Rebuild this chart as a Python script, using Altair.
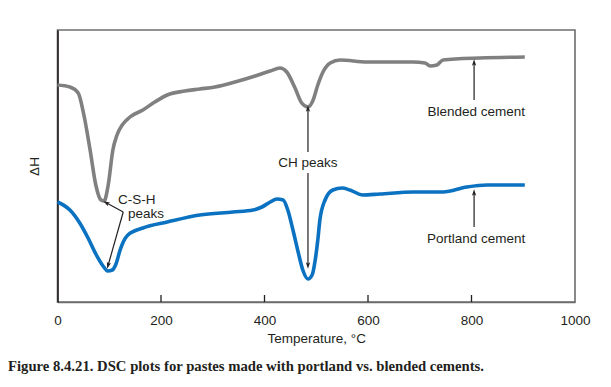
import altair as alt
import pandas as pd
import numpy as np

# Blended cement (gray) curve: temperature (°C), relative ΔH
blend_T = [0, 24, 40, 51, 63, 74, 84, 90, 98, 107, 115, 125, 140, 165, 188, 212, 246, 275, 304, 343,
           382, 411, 430, 443, 459, 472, 484, 494, 503, 513, 527, 546, 598, 687, 710, 720, 733, 745, 816, 903]
blend_H = [217, 215, 209, 187, 152, 117, 102, 101, 117, 152, 167, 177, 185, 192, 200, 207, 211, 213, 215, 220,
           226, 231, 234, 230, 214, 199, 195, 202, 217, 230, 239, 242, 240, 240, 239, 236, 237, 242, 244, 245]

# Portland cement (blue) curve
port_T = [0, 24, 43, 59, 74, 88, 97, 106, 113, 121, 127, 136, 165, 212, 275, 339, 378, 395, 411, 424,
          436, 445, 455, 465, 474, 484, 492, 498, 503, 507, 517, 532, 550, 565, 590, 623, 687, 745, 791, 830, 903]
port_H = [100, 92, 79, 64, 48, 36, 31, 32, 38, 52, 60, 67, 74, 80, 87, 90, 92, 95, 100, 103,
          102, 92, 72, 50, 32, 23, 27, 42, 62, 82, 102, 112, 114, 112, 107, 108, 110, 110, 115, 117, 117]

# annotation labels
label_text = ["Blended cement", "Portland cement", "CH peaks", "C-S-H", "peaks"]
label_T = [809, 809, 484, 153, 171]
label_H = [190, 63, 139, 102, 88]

# arrows: start -> tip
arrow_T1 = [805, 805, 484, 484, 127, 127]
arrow_H1 = [202, 75, 150, 129, 90, 90]
arrow_T2 = [805, 805, 484, 484, 95, 98]
arrow_H2 = [239, 109, 193, 37, 99, 37]

tick_values = [0, 200, 400, 600, 800, 1000]
inner_ticks = [200, 400, 600, 800]

W, H = 517.5, 272
XMAX, YMAX = 1000, 272
xs = W / XMAX
ys = H / YMAX

curves = pd.concat([
    pd.DataFrame({"T": blend_T, "H": blend_H, "s": "Blended"}),
    pd.DataFrame({"T": port_T, "H": port_H, "s": "Portland"}),
])

xsc = alt.Scale(domain=[0, XMAX], nice=False, zero=False)
ysc = alt.Scale(domain=[0, YMAX], nice=False, zero=False)

xax = alt.Axis(values=tick_values, format="d", ticks=False, grid=False, labelFlush=False,
               labelPadding=11, labelFontSize=13.5,
               labelFont="Liberation Sans", labelColor="#231f20", domainColor="#6d6d6d", domainWidth=1.6,
               title="Temperature, °C", titleFont="Liberation Sans", titleFontSize=13.5,
               titleFontWeight="normal", titleColor="#231f20", titlePadding=5)
yax = alt.Axis(labels=False, ticks=False, grid=False, domainColor="#231f20", domainWidth=1.6,
               title="ΔH", titleFont="Liberation Sans", titleFontSize=13.5, titleFontWeight="normal",
               titleColor="#231f20", titlePadding=16)

lines = alt.Chart(curves).mark_line(interpolate="monotone", strokeWidth=3.6).encode(
    x=alt.X("T:Q", scale=xsc, axis=xax),
    y=alt.Y("H:Q", scale=ysc, axis=yax),
    color=alt.Color("s:N", scale=alt.Scale(domain=["Blended", "Portland"], range=["#808080", "#0a72c0"]),
                    legend=None),
)

ticks_df = pd.DataFrame({"T": inner_ticks, "y0": 0, "y1": 7})
ticks = alt.Chart(ticks_df).mark_rule(color="#231f20", strokeWidth=1.3).encode(
    x="T:Q", y="y0:Q", y2="y1:Q")

arr = pd.DataFrame({"T1": arrow_T1, "H1": arrow_H1, "T2": arrow_T2, "H2": arrow_H2})
dxp = (arr["T2"] - arr["T1"]) * xs
dyp = -(arr["H2"] - arr["H1"]) * ys
arr["ang"] = (np.degrees(np.arctan2(dxp, -dyp)) + 360) % 360
arrow_lines = alt.Chart(arr).mark_rule(color="#231f20", strokeWidth=1.2).encode(
    x="T1:Q", y="H1:Q", x2="T2:Q", y2="H2:Q")
arrow_heads = alt.Chart(arr).mark_point(
    shape="M0,-1L-0.55,0.7L0,0.35L0.55,0.7Z", filled=True, color="#231f20", size=60, opacity=1
).encode(
    x="T2:Q", y="H2:Q", angle=alt.Angle("ang:Q", scale=None))

lab = pd.DataFrame({"t": label_text, "T": label_T, "H": label_H})
labels = alt.Chart(lab).mark_text(font="Liberation Sans", fontSize=13.5, color="#231f20",
                                  align="center", baseline="middle").encode(
    x="T:Q", y="H:Q", text="t:N")

chart = alt.layer(lines, ticks, arrow_lines, arrow_heads, labels).properties(
    width=W, height=H,
    autosize=alt.AutoSizeParams(type="none"),
    padding={"left": 49.5, "top": 22, "right": 20, "bottom": 77},
    title=alt.TitleParams(
        "Figure 8.4.21. DSC plots for pastes made with portland vs. blended cements.",
        orient="bottom", anchor="start", frame="group", dx=-49.5, offset=14,
        font="Liberation Serif", fontSize=14.7, fontWeight="bold", color="#231f20"),
).configure_view(stroke="#6d6d6d", strokeWidth=1.6)

chart.save("out.html", embed_options={"renderer": "svg", "actions": False})
